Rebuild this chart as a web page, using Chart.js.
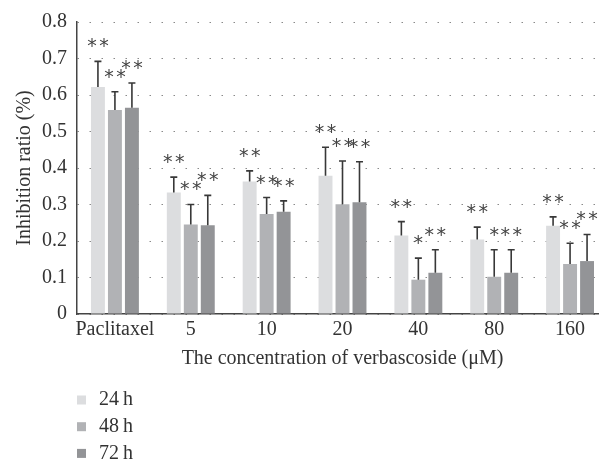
<!DOCTYPE html>
<html>
<head>
<meta charset="utf-8">
<script src="https://cdn.jsdelivr.net/npm/chart.js@4"></script>
<style>
  html, body { margin: 0; padding: 0; background: #fff; overflow: hidden; }
  #wrap { width: 599px; height: 464px; overflow: hidden; }
</style>
</head>
<body>
<div id="wrap"><canvas id="myChart" width="612" height="464"></canvas></div>
<script>
const categories = ['Paclitaxel', '5', '10', '20', '40', '80', '160'];
const seriesNames = ['24\u2009h', '48\u2009h', '72\u2009h'];
const values24 = [0.622, 0.333, 0.363, 0.379, 0.215, 0.204, 0.242];
const values48 = [0.559, 0.245, 0.274, 0.301, 0.094, 0.102, 0.137];
const values72 = [0.565, 0.243, 0.280, 0.306, 0.113, 0.113, 0.145];
const errors24 = [0.070, 0.042, 0.029, 0.078, 0.038, 0.034, 0.024];
const errors48 = [0.050, 0.055, 0.045, 0.118, 0.059, 0.074, 0.057];
const errors72 = [0.068, 0.082, 0.030, 0.111, 0.063, 0.063, 0.073];
const marks24 = ['**', '**', '**', '**', '**', '**', '**'];
const marks48 = ['**', '**', '**', '**', '*', '*', '**'];
const marks72 = ['**', '**', '**', '**', '**', '**', '**'];
const colors = ['#dcdddf', '#b1b2b5', '#939497'];

const serif = '"Liberation Serif", "Times New Roman", serif';
const textColor = '#333';

// error whiskers (upward only) plus significance stars
const errorBars = {
    id: 'errorBars',
    afterDatasetsDraw(chart) {
        const ctx = chart.ctx;
        const yScale = chart.scales.y;
        chart.data.datasets.forEach((ds, di) => {
            const meta = chart.getDatasetMeta(di);
            meta.data.forEach((bar, i) => {
                const top = yScale.getPixelForValue(ds.data[i] + ds.errors[i]);
                ctx.save();
                ctx.strokeStyle = '#383838';
                ctx.lineWidth = 1.6;
                ctx.beginPath();
                ctx.moveTo(bar.x, bar.y);
                ctx.lineTo(bar.x, top);
                ctx.moveTo(bar.x - 3.5, top);
                ctx.lineTo(bar.x + 3.5, top);
                ctx.stroke();
                ctx.fillStyle = '#444';
                ctx.font = '19px "DejaVu Sans"';
                ctx.textAlign = 'center';
                ctx.textBaseline = 'middle';
                const n = ds.marks[i].length;
                for (let k = 0; k < n; k++) {
                    ctx.fillText('*', bar.x + (k - (n - 1) / 2) * 12, top - 14);
                }
                ctx.restore();
            });
        });
    }
};

const sideLegend = {
    id: 'sideLegend',
    afterDraw(chart) {
        const ctx = chart.ctx;
        ctx.save();
        chart.data.datasets.forEach((ds, di) => {
            const y = 400 + di * 26.7;
            ctx.fillStyle = ds.backgroundColor;
            ctx.fillRect(77, y - 4.5, 9, 9);
            ctx.fillStyle = textColor;
            ctx.font = '20px ' + serif;
            ctx.textAlign = 'left';
            ctx.textBaseline = 'middle';
            ctx.fillText(ds.label, 99, y);
        });
        ctx.restore();
    }
};

const myChart = new Chart(document.getElementById('myChart').getContext('2d'), {
    type: 'bar',
    data: {
        labels: categories,
        datasets: [
            { label: seriesNames[0], data: values24, errors: errors24, marks: marks24, backgroundColor: colors[0] },
            { label: seriesNames[1], data: values48, errors: errors48, marks: marks48, backgroundColor: colors[1] },
            { label: seriesNames[2], data: values72, errors: errors72, marks: marks72, backgroundColor: colors[2] },
        ]
    },
    options: {
        responsive: false,
        animation: false,
        devicePixelRatio: 1,
        categoryPercentage: 0.672,
        barPercentage: 0.82,
        layout: { padding: { top: 16, right: 4, bottom: 93, left: 0 } },
        plugins: {
            legend: { display: false },
            tooltip: { enabled: false },
        },
        scales: {
            x: {
                grid: { display: false, drawTicks: false },
                border: { color: '#444', width: 1.5 },
                ticks: {
                    color: textColor,
                    padding: 4,
                    autoSkip: false,
                    maxRotation: 0,
                    font: { family: serif, size: 20 },
                },
                title: {
                    display: true,
                    text: 'The concentration of verbascoside (\u03bcM)',
                    color: textColor,
                    font: { family: serif, size: 20 },
                    padding: { top: 0, bottom: 0 },
                },
                afterFit: (scale) => { scale.height = 57; },
            },
            y: {
                min: 0,
                max: 0.8,
                grid: { color: '#8a8a8a', lineWidth: 1, drawTicks: false },
                border: { color: '#444', width: 1.5, dash: [1.5, 10.5] },
                ticks: {
                    stepSize: 0.1,
                    color: textColor,
                    padding: 10,
                    font: { family: serif, size: 20 },
                    callback: (v) => v === 0 ? '0' : v.toFixed(1),
                },
                title: {
                    display: true,
                    text: 'Inhibition ratio (%)',
                    color: textColor,
                    font: { family: serif, size: 20 },
                    padding: { top: 13, bottom: 0 },
                },
                afterFit: (scale) => { scale.width = 77; },
            }
        }
    },
    plugins: [errorBars, sideLegend]
});
</script>
</body>
</html>
